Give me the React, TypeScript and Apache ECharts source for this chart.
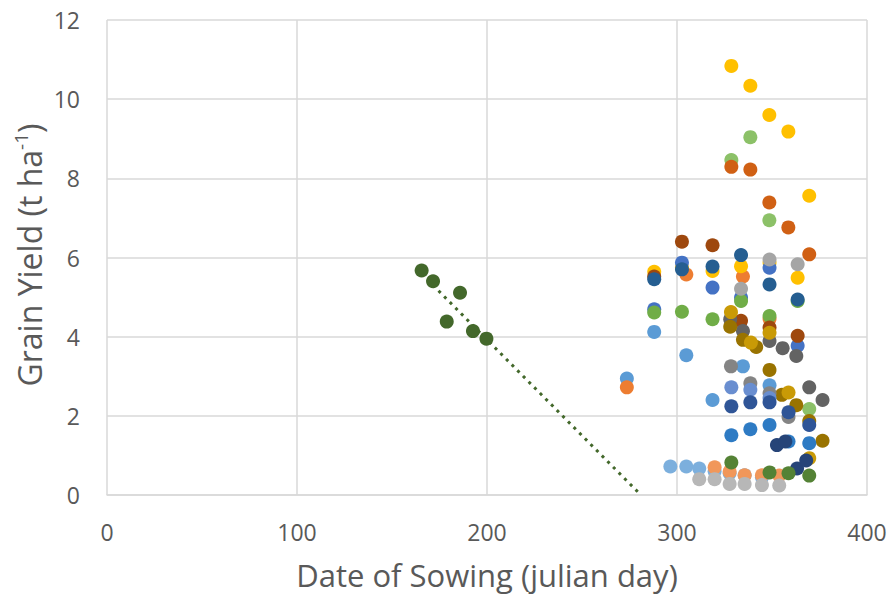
import React, { useEffect, useRef } from 'react';
import * as echarts from 'echarts';

const xAxisTitle = 'Date of Sowing (julian day)';
const yAxisTitleMain = 'Grain Yield (t ha';
const yAxisTitleSup = '-1';

// Series values: [julian day, grain yield]
const sowingTrend: number[][] = [[165.6, 5.67], [171.6, 5.40], [178.8, 4.38], [185.8, 5.11], [192.6, 4.14], [199.7, 3.95]];
const trendLine: number[][] = [[165.6, 5.59], [281, 0]];

const lightBlue: number[][] = [[273.6, 2.94], [288, 4.12], [304.9, 3.53], [318.7, 2.40], [334.7, 3.25], [348.7, 2.77]];
const orange: number[][] = [[273.6, 2.72], [304.9, 5.57], [334.7, 5.52], [348.7, 4.45]];
const gold: number[][] = [[288, 5.64], [302.6, 5.75], [318.7, 5.66], [333.7, 5.78], [348.7, 5.87], [363.5, 5.49], [328.6, 10.84], [338.6, 10.34], [348.6, 9.60], [358.6, 9.18], [369.6, 7.56]];
const brown: number[][] = [[288, 5.52], [302.6, 6.40], [318.7, 6.31], [333.7, 4.40], [348.7, 4.23], [363.5, 4.02]];
const darkBlue: number[][] = [[288, 5.45], [302.6, 5.70], [318.7, 5.77], [333.7, 6.06], [348.7, 5.32], [363.5, 4.94]];
const blue: number[][] = [[288, 4.69], [302.6, 5.87], [318.7, 5.24], [333.7, 4.99], [348.7, 5.74], [363.5, 3.77]];
const green: number[][] = [[288, 4.61], [302.6, 4.63], [318.7, 4.44], [333.7, 4.90], [348.7, 4.52], [363.5, 4.90]];
const lightGreen: number[][] = [[328.6, 8.46], [338.6, 9.04], [348.6, 6.94], [369.6, 2.17]];
const darkOrange: number[][] = [[328.6, 8.29], [338.6, 8.22], [348.6, 7.39], [358.6, 6.76], [369.6, 6.08]];
const grey: number[][] = [[333.7, 5.21], [348.7, 5.95], [363.5, 5.83]];
const darkGrey: number[][] = [[328, 4.44], [334.7, 4.14], [348.7, 3.89], [355.6, 3.71], [362.8, 3.51], [369.6, 2.72], [376.6, 2.40]];
const darkGold: number[][] = [[328, 4.25], [334.7, 3.92], [341.7, 3.74], [348.7, 3.16], [355.2, 2.53], [362.8, 2.27], [369.6, 1.87], [376.6, 1.37]];
const midGold: number[][] = [[328.4, 4.62], [338.9, 3.85], [348.7, 4.10], [358.7, 2.59], [369.6, 0.93]];
const midGrey: number[][] = [[328.4, 3.25], [338.6, 2.82], [348.7, 2.57], [358.7, 1.97]];
const paleBlue: number[][] = [[328.6, 2.72], [338.6, 2.66], [348.7, 2.45]];
const deepBlue: number[][] = [[328.6, 2.24], [338.6, 2.34], [348.7, 2.34], [358.7, 2.09], [369.6, 1.77]];
const steelBlue: number[][] = [[328.6, 1.51], [338.6, 1.66], [348.7, 1.77], [358.7, 1.35], [369.6, 1.31]];
const navy: number[][] = [[352.6, 1.26], [357, 1.35], [363.2, 0.67], [368, 0.87]];
const lowBlue: number[][] = [[296.5, 0.72], [304.9, 0.72], [311.7, 0.67], [319.8, 0.60], [327.7, 0.55], [335.6, 0.50], [344.7, 0.45]];
const lowOrange: number[][] = [[319.8, 0.70], [327.7, 0.59], [335.6, 0.50], [344.7, 0.50], [353.8, 0.49]];
const lowGreen: number[][] = [[328.6, 0.82], [348.7, 0.57], [358.7, 0.55], [369.6, 0.49]];
const lowGrey: number[][] = [[311.7, 0.40], [319.8, 0.40], [327.7, 0.28], [335.6, 0.28], [344.7, 0.25], [353.8, 0.24]];

const groups: { data: number[][]; color: string }[] = [
  { data: lightBlue, color: '#5B9BD5' },
  { data: orange, color: '#ED7D31' },
  { data: gold, color: '#FFC000' },
  { data: blue, color: '#4472C4' },
  { data: green, color: '#70AD47' },
  { data: brown, color: '#9E480E' },
  { data: darkBlue, color: '#255E91' },
  { data: grey, color: '#A5A5A5' },
  { data: lightGreen, color: '#8CC168' },
  { data: darkOrange, color: '#D06014' },
  { data: darkGrey, color: '#636363' },
  { data: darkGold, color: '#997300' },
  { data: midGold, color: '#C99A06' },
  { data: midGrey, color: '#848484' },
  { data: paleBlue, color: '#698ED0' },
  { data: deepBlue, color: '#2F5597' },
  { data: steelBlue, color: '#2E7BC4' },
  { data: navy, color: '#264478' },
  { data: lowBlue, color: '#7CAFDD' },
  { data: lowOrange, color: '#F1975A' },
  { data: lowGreen, color: '#548235' },
  { data: lowGrey, color: '#B7B7B7' },
];

const FONT = '"Open Sans", sans-serif';
const TEXT = '#595959';
const GRIDC = '#D9D9D9';

export default function App() {
  const ref = useRef<HTMLDivElement>(null);
  useEffect(() => {
    if (!ref.current) return;
    const chart = echarts.init(ref.current, undefined, { renderer: 'svg' });
    const scatterSeries = groups.map((g) => ({
      type: 'scatter',
      data: g.data,
      symbol: 'circle',
      symbolSize: 14,
      itemStyle: { color: g.color, opacity: 1 },
      z: 3,
    }));
    chart.setOption({
      animation: false,
      backgroundColor: '#FFFFFF',
      grid: { left: 107, right: 24, top: 20, bottom: 104, containLabel: false },
      xAxis: {
        type: 'value',
        min: 0,
        max: 400,
        interval: 100,
        name: xAxisTitle,
        nameLocation: 'middle',
        nameGap: 64,
        nameTextStyle: { color: TEXT, fontSize: 31, fontFamily: FONT },
        axisLine: { show: true, lineStyle: { color: GRIDC, width: 1.5 } },
        axisTick: { show: false },
        axisLabel: { color: TEXT, fontSize: 23, fontFamily: FONT, margin: 25 },
        splitLine: { show: true, lineStyle: { color: GRIDC, width: 1.5 } },
      },
      yAxis: {
        type: 'value',
        min: 0,
        max: 12,
        interval: 2,
        axisLine: { show: false },
        axisTick: { show: false },
        axisLabel: { color: TEXT, fontSize: 23, fontFamily: FONT, margin: 27 },
        splitLine: { show: true, lineStyle: { color: GRIDC, width: 1.5 } },
      },
      graphic: [
        {
          type: 'text',
          x: 29,
          y: 255,
          rotation: Math.PI / 2,
          style: {
            text: `{a|${yAxisTitleMain}}{s|${yAxisTitleSup}}{a|)}`,
            align: 'center',
            verticalAlign: 'middle',
            fill: TEXT,
            rich: {
              a: { fontSize: 32, fontFamily: FONT, fill: TEXT, color: TEXT },
              s: { fontSize: 19, fontFamily: FONT, fill: TEXT, color: TEXT, padding: [0, 0, 16, 0] },
            },
          },
        },
      ],
      series: [
        {
          type: 'line',
          data: sowingTrend,
          symbol: 'circle',
          symbolSize: 14,
          lineStyle: { width: 0 },
          itemStyle: { color: '#43682B' },
          z: 3,
        },
        {
          type: 'line',
          data: trendLine,
          showSymbol: false,
          symbol: 'none',
          lineStyle: { color: '#43682B', width: 3, type: [3, 5] },
          z: 2,
        },
        ...scatterSeries,
      ],
    });
    return () => chart.dispose();
  }, []);
  return <div ref={ref} style={{ width: 891, height: 599, position: 'absolute', left: 0, top: 0 }} />;
}
